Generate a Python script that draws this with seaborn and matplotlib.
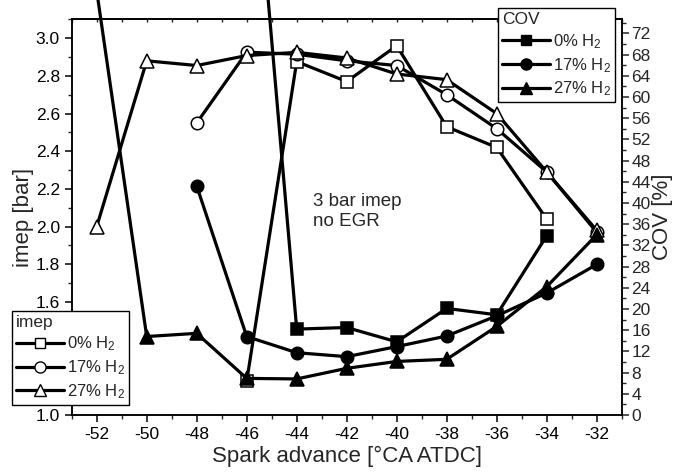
import matplotlib
matplotlib.use("Agg")
import matplotlib.pyplot as plt
from matplotlib.lines import Line2D
from matplotlib.ticker import MultipleLocator, FormatStrFormatter
import seaborn as sns
import pandas as pd

# ---- data ----
x_0 = [-46, -44, -42, -40, -38, -36, -34]
x_17 = [-48, -46, -44, -42, -40, -38, -36, -34, -32]
x_27 = [-52, -50, -48, -46, -44, -42, -40, -38, -36, -34, -32]

imep_0 = [1.18, 2.876, 2.77, 2.96, 2.53, 2.42, 2.04]
imep_17 = [2.55, 2.926, 2.915, 2.88, 2.855, 2.70, 2.52, 2.29, 1.97]
imep_27 = [2.00, 2.88, 2.855, 2.908, 2.925, 2.895, 2.81, 2.78, 2.60, 2.29, 1.98]

cov_0 = [125.0, 16.2, 16.5, 13.8, 20.1, 18.9, 33.8]
cov_17 = [43.2, 14.8, 11.75, 11.0, 12.9, 14.9, 18.7, 23.0, 28.4]
cov_27 = [80.0, 14.8, 15.4, 6.9, 6.8, 8.8, 10.1, 10.5, 16.7, 24.2, 34.0]

labels = ["0% H$_2$", "17% H$_2$", "27% H$_2$"]
markers = ["s", "o", "^"]
msizes = [8, 9, 9.5]

sns.set_theme(style="ticks")
plt.rcParams["font.family"] = ["Liberation Sans", "DejaVu Sans"]
plt.rcParams["mathtext.fontset"] = "custom"
plt.rcParams["mathtext.rm"] = "Liberation Sans"
plt.rcParams["mathtext.it"] = "Liberation Sans:italic"
plt.rcParams["mathtext.bf"] = "Liberation Sans:bold"
plt.rcParams["axes.unicode_minus"] = False

fig = plt.figure(figsize=(6.85, 4.76), dpi=100)
ax = fig.add_axes([0.1047, 0.1282, 0.9076 - 0.1047, 0.9601 - 0.1282])
ax2 = ax.twinx()

lw = 2.3
imep_sets = [(x_0, imep_0), (x_17, imep_17), (x_27, imep_27)]
cov_sets = [(x_0, cov_0), (x_17, cov_17), (x_27, cov_27)]

for (xs, ys), m, ms in zip(imep_sets, markers, msizes):
    df = pd.DataFrame({"x": xs, "y": ys})
    sns.lineplot(data=df, x="x", y="y", ax=ax, color="black", linewidth=lw,
                 marker=m, markersize=ms, markerfacecolor="white",
                 markeredgecolor="black", markeredgewidth=1.1,
                 estimator=None, sort=False, legend=False, clip_on=False)

for (xs, ys), m, ms in zip(cov_sets, markers, msizes):
    df = pd.DataFrame({"x": xs, "y": ys})
    sns.lineplot(data=df, x="x", y="y", ax=ax2, color="black", linewidth=lw,
                 marker=m, markersize=ms, markerfacecolor="black",
                 markeredgecolor="black", markeredgewidth=1.1,
                 estimator=None, sort=False, legend=False, clip_on=False)

ax.set_xlim(-53, -31)
ax.set_ylim(1.0, 3.102)
ax2.set_ylim(0, 74.7)

ax.xaxis.set_major_locator(MultipleLocator(2))
ax.xaxis.set_minor_locator(MultipleLocator(1))
ax.yaxis.set_major_locator(MultipleLocator(0.2))
ax.yaxis.set_minor_locator(MultipleLocator(0.1))
ax2.yaxis.set_major_locator(MultipleLocator(4))
ax2.yaxis.set_minor_locator(MultipleLocator(2))
ax.yaxis.set_major_formatter(FormatStrFormatter("%.1f"))

ax.tick_params(axis="both", which="major", direction="out", length=5, width=1.1,
               labelsize=12.5, color="black", labelcolor="black")
ax.tick_params(axis="both", which="minor", direction="out", length=3, width=1.0)
ax2.tick_params(axis="y", which="major", direction="out", length=5, width=1.1,
                labelsize=12.5, pad=2)
ax2.tick_params(axis="y", which="minor", direction="out", length=3, width=1.0)

# short inward ticks along the top spine
ax_top = ax.secondary_xaxis("top")
ax_top.xaxis.set_major_locator(MultipleLocator(1))
ax_top.tick_params(axis="x", which="both", direction="in", length=2.5, width=1.0,
                   labeltop=False)
ax_top.spines["top"].set_linewidth(1.1)

for a in (ax, ax2):
    for s in a.spines.values():
        s.set_visible(True)
        s.set_linewidth(1.1)
        s.set_color("black")

ax.set_xlabel("Spark advance [°CA ATDC]", fontsize=16, labelpad=3)
ax.set_ylabel("imep [bar]", fontsize=16, labelpad=1)
ax2.set_ylabel("COV [%]", fontsize=16, labelpad=1)

ax.text(-43.36, 2.08, "3 bar imep\nno EGR", fontsize=13.5, ha="left", va="center",
        linespacing=1.3)

# legends
cov_handles = [Line2D([], [], color="black", lw=lw, marker=m, markersize=ms - 1,
                      markerfacecolor="black", markeredgecolor="black")
               for m, ms in zip(markers, msizes)]
imep_handles = [Line2D([], [], color="black", lw=lw, marker=m, markersize=ms - 1,
                       markerfacecolor="white", markeredgecolor="black")
                for m, ms in zip(markers, msizes)]

leg_kw = dict(frameon=True, fancybox=False, framealpha=1, edgecolor="black",
              fontsize=12, title_fontsize=12.5, handlelength=2.9, handletextpad=0.15,
              labelspacing=0.3, borderpad=0.25, borderaxespad=0, alignment="left")

leg1 = ax2.legend(cov_handles, labels, title="COV", loc="upper right",
                  bbox_to_anchor=(615 / 685, 1 - 8 / 476),
                  bbox_transform=fig.transFigure, **leg_kw)
leg1.get_frame().set_linewidth(1.0)
ax2.add_artist(leg1)
leg2 = ax2.legend(imep_handles, labels, title="imep", loc="lower left",
                  bbox_to_anchor=(11.7 / 685, 1 - 405 / 476),
                  bbox_transform=fig.transFigure, **leg_kw)
leg2.get_frame().set_linewidth(1.0)

fig.savefig("out.png", dpi=100)
